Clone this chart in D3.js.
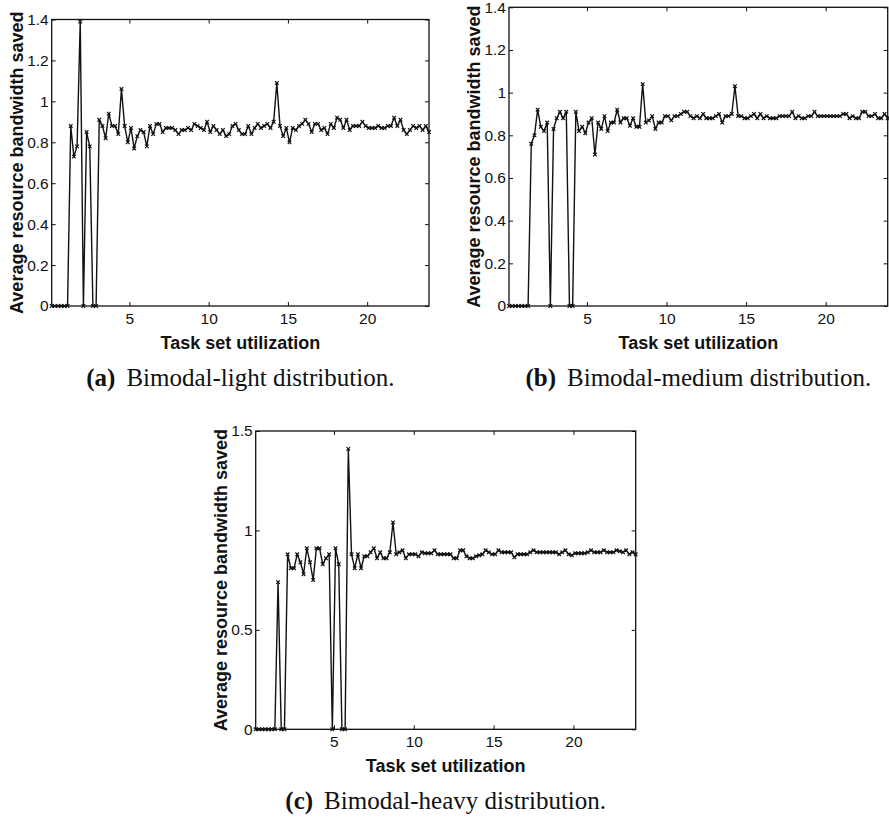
<!DOCTYPE html>
<html>
<head>
<meta charset="utf-8">
<script src="https://cdn.jsdelivr.net/npm/d3@7/dist/d3.min.js"></script>
<style>
  body { margin: 0; background: #fff; }
</style>
</head>
<body>
<div id="chart"></div>
<script>
// task set utilization, shared by all three panels
const utilization = [
  0.1, 0.3, 0.5, 0.7, 0.9, 1.1, 1.3, 1.5, 1.7, 1.9,
  2.1, 2.3, 2.5, 2.7, 2.9, 3.1, 3.3, 3.5, 3.7, 3.9,
  4.1, 4.3, 4.5, 4.7, 4.9, 5.1, 5.3, 5.5, 5.7, 5.9,
  6.1, 6.3, 6.5, 6.7, 6.9, 7.1, 7.3, 7.5, 7.7, 7.9,
  8.1, 8.3, 8.5, 8.7, 8.9, 9.1, 9.3, 9.5, 9.7, 9.9,
  10.1, 10.3, 10.5, 10.7, 10.9, 11.1, 11.3, 11.5, 11.7, 11.9,
  12.1, 12.3, 12.5, 12.7, 12.9, 13.1, 13.3, 13.5, 13.7, 13.9,
  14.1, 14.3, 14.5, 14.7, 14.9, 15.1, 15.3, 15.5, 15.7, 15.9,
  16.1, 16.3, 16.5, 16.7, 16.9, 17.1, 17.3, 17.5, 17.7, 17.9,
  18.1, 18.3, 18.5, 18.7, 18.9, 19.1, 19.3, 19.5, 19.7, 19.9,
  20.1, 20.3, 20.5, 20.7, 20.9, 21.1, 21.3, 21.5, 21.7, 21.9,
  22.1, 22.3, 22.5, 22.7, 22.9, 23.1, 23.3, 23.5, 23.7, 23.9
]

// average resource bandwidth saved
const lightSaved = [
  0, 0, 0, 0, 0, 0, 0.88, 0.73, 0.78, 1.39,
  0, 0.85, 0.78, 0, 0, 0.91, 0.88, 0.82, 0.94, 0.88,
  0.88, 0.84, 1.06, 0.88, 0.80, 0.87, 0.77, 0.83, 0.86, 0.85,
  0.78, 0.88, 0.84, 0.89, 0.89, 0.85, 0.87, 0.87, 0.87, 0.86,
  0.84, 0.86, 0.86, 0.87, 0.86, 0.89, 0.88, 0.87, 0.86, 0.90,
  0.85, 0.88, 0.86, 0.84, 0.86, 0.83, 0.84, 0.88, 0.89, 0.86,
  0.84, 0.84, 0.88, 0.84, 0.87, 0.89, 0.87, 0.88, 0.89, 0.87,
  0.90, 1.09, 0.88, 0.83, 0.87, 0.80, 0.87, 0.86, 0.88, 0.89,
  0.91, 0.89, 0.85, 0.89, 0.89, 0.86, 0.87, 0.84, 0.89, 0.87,
  0.92, 0.91, 0.87, 0.91, 0.86, 0.88, 0.88, 0.88, 0.90, 0.88,
  0.87, 0.87, 0.87, 0.88, 0.87, 0.87, 0.88, 0.88, 0.92, 0.88,
  0.91, 0.86, 0.84, 0.86, 0.88, 0.87, 0.88, 0.86, 0.88, 0.85
]

const mediumSaved = [
  0, 0, 0, 0, 0, 0, 0, 0.76, 0.80, 0.92,
  0.84, 0.82, 0.86, 0, 0.83, 0.88, 0.91, 0.88, 0.91, 0,
  0, 0.91, 0.82, 0.84, 0.81, 0.86, 0.88, 0.71, 0.86, 0.83,
  0.89, 0.82, 0.86, 0.86, 0.92, 0.86, 0.88, 0.88, 0.845, 0.88,
  0.84, 0.84, 1.04, 0.86, 0.87, 0.89, 0.83, 0.86, 0.86, 0.89,
  0.89, 0.87, 0.89, 0.89, 0.90, 0.91, 0.91, 0.89, 0.88, 0.89,
  0.88, 0.90, 0.88, 0.88, 0.88, 0.89, 0.90, 0.86, 0.89, 0.89,
  0.90, 1.03, 0.89, 0.89, 0.88, 0.88, 0.89, 0.90, 0.88, 0.90,
  0.88, 0.89, 0.88, 0.88, 0.88, 0.89, 0.89, 0.89, 0.89, 0.91,
  0.88, 0.89, 0.88, 0.88, 0.89, 0.89, 0.91, 0.89, 0.89, 0.89,
  0.89, 0.89, 0.89, 0.89, 0.89, 0.90, 0.90, 0.88, 0.89, 0.88,
  0.88, 0.91, 0.91, 0.89, 0.89, 0.90, 0.88, 0.88, 0.90, 0.88
]

const heavySaved = [
  0, 0, 0, 0, 0, 0, 0, 0.74, 0, 0,
  0.88, 0.81, 0.81, 0.88, 0.84, 0.78, 0.91, 0.84, 0.75, 0.91,
  0.91, 0.83, 0.86, 0.88, 0, 0.91, 0.83, 0, 0, 1.41,
  0.88, 0.81, 0.88, 0.81, 0.87, 0.87, 0.89, 0.91, 0.86, 0.89,
  0.86, 0.86, 0.89, 1.04, 0.88, 0.89, 0.90, 0.86, 0.88, 0.88,
  0.88, 0.87, 0.89, 0.885, 0.885, 0.885, 0.90, 0.88, 0.88, 0.88,
  0.88, 0.88, 0.86, 0.86, 0.90, 0.90, 0.87, 0.86, 0.86, 0.87,
  0.875, 0.88, 0.90, 0.89, 0.88, 0.88, 0.90, 0.89, 0.89, 0.89,
  0.89, 0.865, 0.88, 0.88, 0.88, 0.88, 0.89, 0.90, 0.89, 0.89,
  0.89, 0.89, 0.89, 0.89, 0.89, 0.88, 0.89, 0.90, 0.88, 0.875,
  0.885, 0.885, 0.885, 0.885, 0.89, 0.90, 0.89, 0.89, 0.89, 0.90,
  0.89, 0.89, 0.89, 0.90, 0.895, 0.89, 0.90, 0.88, 0.89, 0.88
]

const xTicks = [5, 10, 15, 20]
const yTicksFine = [0, 0.2, 0.4, 0.6, 0.8, 1, 1.2, 1.4]
const yTicksCoarse = [0, 0.5, 1, 1.5]
const xTitle = 'Task set utilization'
const yTitle = 'Average resource bandwidth saved'
const tags = ['(a)', '(b)', '(c)']
const captions = ['Bimodal-light distribution.', 'Bimodal-medium distribution.', 'Bimodal-heavy distribution.']

const sans = '"Liberation Sans", Arial, Helvetica, sans-serif'
const serif = '"Liberation Serif", "Times New Roman", serif'
const ink = '#111'

var svg = d3
  .select('#chart')
  .append('svg')
  .attr('width', 889)
  .attr('height', 817)
  .attr('viewBox', [0, 0, 889, 817])
  .style('background', '#fff')

const lineplot = (values, box, yMax, yTicks, tag, caption) => {
  const x = d3
    .scaleLinear()
    .domain([utilization[0], utilization[utilization.length - 1]])
    .range([box.left, box.right])
  const y = d3.scaleLinear().domain([0, yMax]).range([box.bottom, box.top])

  const g = svg.append('g')

  // ticks on all four sides, pointing inwards (matlab box)
  const styleAxis = a => {
    a.select('.domain').remove()
    a.attr('font-size', null).attr('font-family', null)
    a.selectAll('line').attr('stroke', ink)
    a.selectAll('text').attr('fill', ink).style('font-family', sans).style('font-size', '15.5px')
  }
  g.append('g')
    .attr('transform', `translate(0,${box.bottom})`)
    .call(d3.axisBottom(x).tickValues(xTicks).tickSize(-4).tickPadding(7).tickFormat(d3.format('d')))
    .call(styleAxis)
  g.append('g')
    .attr('transform', `translate(0,${box.top})`)
    .call(d3.axisTop(x).tickValues(xTicks).tickSize(-4).tickFormat(''))
    .call(styleAxis)
  g.append('g')
    .attr('transform', `translate(${box.left},0)`)
    .call(d3.axisLeft(y).tickValues(yTicks).tickSize(-4).tickPadding(3).tickFormat(d3.format('~g')))
    .call(styleAxis)
  g.append('g')
    .attr('transform', `translate(${box.right},0)`)
    .call(d3.axisRight(y).tickValues(yTicks).tickSize(-4).tickFormat(''))
    .call(styleAxis)

  g.append('rect')
    .attr('x', box.left)
    .attr('y', box.top)
    .attr('width', box.right - box.left)
    .attr('height', box.bottom - box.top)
    .attr('fill', 'none')
    .attr('stroke', ink)
    .attr('stroke-width', 1.3)

  const line = d3
    .line()
    .x((d, i) => x(utilization[i]))
    .y(d => y(d))

  g.append('path')
    .datum(values)
    .attr('d', line)
    .attr('fill', 'none')
    .attr('stroke', ink)
    .attr('stroke-width', 1.4)
    .attr('stroke-linejoin', 'round')

  // little x markers
  g.selectAll('.mark')
    .data(values)
    .enter()
    .append('path')
    .attr('class', 'mark')
    .attr('transform', (d, i) => `translate(${x(utilization[i])},${y(d)})`)
    .attr('d', 'M-1.8,-1.8L1.8,1.8M-1.8,1.8L1.8,-1.8')
    .attr('stroke', ink)
    .attr('stroke-width', 1.2)

  const cx = (box.left + box.right) / 2

  g.append('text')
    .attr('x', cx)
    .attr('y', box.bottom + 43)
    .attr('text-anchor', 'middle')
    .style('font-family', sans)
    .style('font-weight', 'bold')
    .style('font-size', '18px')
    .attr('fill', ink)
    .text(xTitle)

  g.append('text')
    .attr('transform', `translate(${box.left - 29},${(box.top + box.bottom) / 2}) rotate(-90)`)
    .attr('text-anchor', 'middle')
    .style('font-family', sans)
    .style('font-weight', 'bold')
    .style('font-size', '18px')
    .attr('fill', ink)
    .text(yTitle)

  const cap = g
    .append('text')
    .attr('x', cx)
    .attr('y', box.bottom + 80)
    .attr('text-anchor', 'middle')
    .style('font-family', serif)
    .style('font-size', '25px')
    .attr('fill', ink)
  cap.append('tspan').style('font-weight', 'bold').text(tag)
  cap.append('tspan').attr('dx', 11).text(caption)
}

lineplot(lightSaved, { left: 51.7, right: 429, top: 19.5, bottom: 306 }, 1.4, yTicksFine, tags[0], captions[0])
lineplot(mediumSaved, { left: 509, right: 887.7, top: 7.3, bottom: 306 }, 1.4, yTicksFine, tags[1], captions[1])
lineplot(heavySaved, { left: 255.7, right: 635.7, top: 431, bottom: 729.3 }, 1.5, yTicksCoarse, tags[2], captions[2])
</script>
</body>
</html>
